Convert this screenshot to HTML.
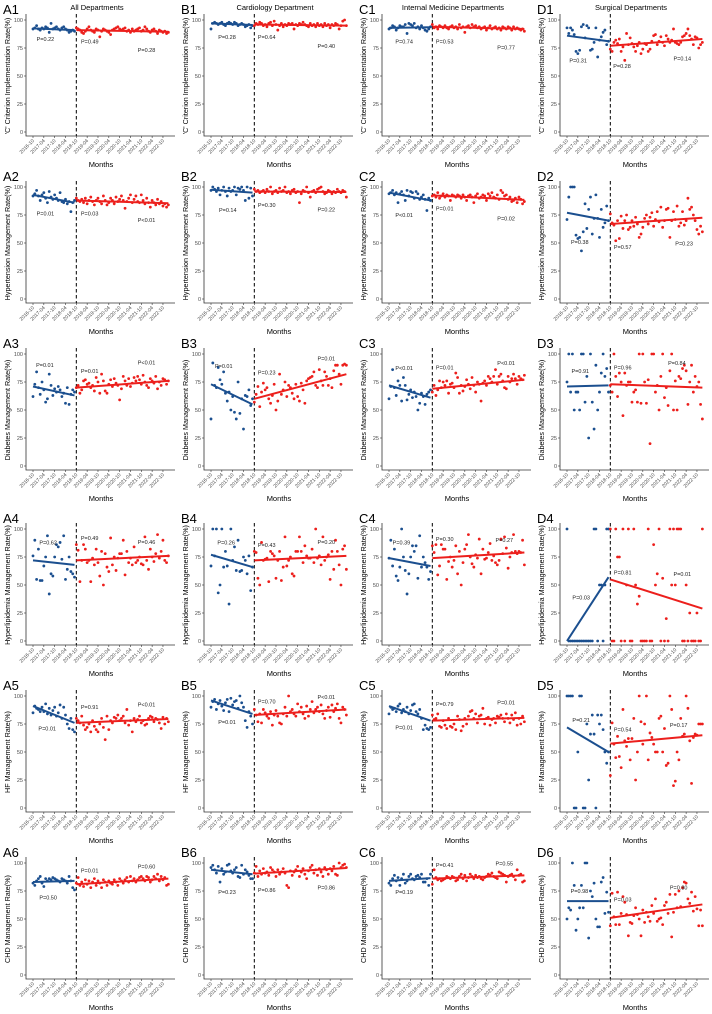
<!DOCTYPE html>
<html><head><meta charset="utf-8">
<style>
html,body{margin:0;padding:0;background:#fff;}
svg{display:block;font-family:"Liberation Sans",sans-serif;}
</style></head>
<body>
<svg id="chart" width="712" height="1014" viewBox="0 0 712 1014" xmlns="http://www.w3.org/2000/svg"></svg>
<script>
const colTitles=["All Departments","Cardiology Department","Internal Medicine Departments","Surgical Departments"];
const rowTitles=["'C' Criterion Implementation Rate(%)","Hypertension Management Rate(%)","Diabetes Management Rate(%)","Hyperlipidemia Management Rate(%)","HF Management Rate(%)","CHD Management Rate(%)"];
const xTicks=["2016-10","2017-04","2017-10","2018-04","2018-10","2019-04","2019-10","2020-04","2020-10","2021-04","2021-10","2022-04","2022-10"];
const yTicks=[0,25,50,75,100];

const A1pre=[92,93,95,92,91,93,92,94,93,89,97,92,93,94,92,91,93,94,92,91,89,90,91,90];
const A1post=[93,92,91,89,88,90,92,94,91,90,89,92,91,85,90,92,91,90,89,87,91,92,93,94,92,91,92,93,90,91,89,92,90,91,92,93,90,91,94,92,90,89,91,92,90,88,91,90,89,90,88,89];
const A1fit=[92.5,91,91,89.5];const A1pt=["P=0.22","P=0.49","P=0.28"];const A1pm=[2,26.6,58];const A1pv=[83,80.6,73];

const B1pre=[92,97,98,97,96,97,98,96,95,97,98,97,96,98,97,95,96,97,96,94,95,96,93,95];
const B1post=[95,97,96,98,97,95,96,94,97,98,95,99,96,91,95,97,94,96,95,97,96,97,92,96,95,97,96,98,96,95,94,97,95,96,94,97,95,96,94,97,95,96,93,96,95,97,96,92,95,99,100,95];
const B1fit=[97,95.5,96,95];const B1pt=["P=0.28","P=0.64","P=0.40"];const B1pm=[4,26,59];const B1pv=[85,85,77];

const C1pre=[92,93,95,94,91,93,95,94,94,96,88,97,96,95,97,93,94,92,95,93,91,90,92,94];
const C1post=[96,93,94,92,95,94,93,95,93,92,94,95,93,94,92,96,93,94,89,94,95,93,96,94,95,93,94,92,93,94,91,93,95,92,93,94,92,93,91,94,93,92,94,93,91,94,92,93,92,91,92,90];
const C1fit=[93,93.5,94,92];const C1pt=["P=0.74","P=0.53","P=0.77"];const C1pm=[3.5,26,60];const C1pv=[81,81,75.6];

const D1pre=[93,88,93,91,87,72,70,73,94,96,84,95,93,73,74,80,93,67,82,85,89,91,78,81];
const D1post=[74,72,80,82,79,83,72,76,64,88,78,84,79,76,72,77,80,70,74,79,78,72,74,81,86,87,78,81,85,80,77,86,83,80,82,92,80,79,78,80,85,86,88,92,86,83,78,85,84,75,78,80];
const D1fit=[86,81,77,83];const D1pt=["P=0.31","P=0.28","P=0.14"];const D1pm=[1.3,25.6,59];const D1pv=[64,59,65.5];

const A2pre=[92,94,97,92,88,93,95,90,86,96,91,89,93,90,88,95,87,86,89,85,87,78,86,88];
const A2post=[90,88,87,89,86,90,85,88,91,87,84,88,90,87,85,92,88,84,86,90,88,85,91,87,89,92,88,81,87,90,93,86,89,92,87,86,93,88,85,90,86,82,88,86,84,89,85,87,83,85,82,84];
const A2fit=[93,86,88,85.5];const A2pt=["P=0.01","P=0.03","P<0.01"];const A2pm=[2,26.5,58];const A2pv=[76.5,76.5,70.5];

const B2pre=[97,100,98,96,99,93,97,100,96,92,99,96,97,100,93,99,98,100,97,88,100,90,99,92];
const B2post=[98,96,97,95,96,97,95,98,96,100,94,96,97,95,99,96,97,100,95,96,94,97,98,95,96,86,94,97,96,100,95,91,96,97,95,98,99,100,96,94,95,97,96,94,96,95,98,96,95,97,96,91];
const B2fit=[97.5,95,96,95.5];const B2pt=["P=0.14","P=0.30","P=0.22"];const B2pm=[4.4,26,59];const B2pv=[79.5,84,80];

const C2pre=[94,95,97,93,95,86,94,96,93,88,97,92,96,95,90,96,94,89,91,93,89,79,90,88];
const C2post=[92,93,91,95,90,92,94,91,93,92,88,93,92,91,93,92,90,93,91,88,92,93,91,86,92,94,90,91,93,92,88,94,92,95,91,90,93,89,97,95,92,93,89,91,87,88,90,86,91,89,85,87];
const C2fit=[95,88,92.5,88.5];const C2pt=["P<0.01","P=0.01","P=0.02"];const C2pm=[3.5,26,60];const C2pv=[75,81,71.7];

const D2pre=[71,91,100,100,100,57,54,55,43,60,85,63,80,91,58,72,93,72,55,80,64,68,83,70];
const D2post=[76,68,66,52,70,54,74,63,70,75,62,64,70,65,73,67,55,58,64,72,75,67,73,77,65,71,78,69,82,64,70,80,81,55,70,78,71,83,65,68,78,66,70,90,80,82,75,70,62,58,65,60];
const D2fit=[77,70,67,72.5];const D2pt=["P=0.38","P=0.57","P=0.23"];const D2pm=[2.2,26,60];const D2pv=[51,46.4,49.4];

const A3pre=[62,73,84,70,64,75,68,57,60,82,72,63,69,66,71,68,62,65,56,70,55,64,68,66];
const A3post=[70,72,65,68,76,77,73,74,70,72,67,79,75,65,82,76,67,65,73,77,71,78,74,72,59,69,80,76,72,78,71,74,79,76,80,77,73,81,75,72,70,78,76,74,80,69,75,72,78,77,73,76];
const A3fit=[71,63,70,76];const A3pt=["P=0.01","P=0.01","P<0.01"];const A3pm=[1.7,26.5,58];const A3pv=[90,85,92.6];

const B3pre=[42,92,72,70,88,77,73,84,65,58,66,50,62,48,42,75,47,60,33,63,62,68,54,60];
const B3post=[57,64,71,53,66,74,68,70,60,56,63,73,50,58,82,64,68,75,62,72,70,65,60,73,62,58,74,68,56,76,78,79,80,84,72,70,86,76,72,84,80,72,78,70,85,90,90,82,73,90,91,90];
const B3fit=[73,55,60,82];const B3pt=["P=0.01","P=0.23","P=0.01"];const B3pm=[2.2,26,59];const B3pv=[89.5,83.6,96];

const C3pre=[60,71,86,70,63,76,72,58,79,72,59,64,68,61,66,62,50,56,65,62,55,64,66,68];
const C3post=[66,72,63,68,76,70,75,72,76,65,73,74,70,83,79,65,72,67,71,77,73,69,79,72,66,75,73,58,74,76,72,80,78,75,80,86,73,80,82,76,70,69,80,75,78,82,78,73,80,78,77,81];
const C3fit=[72,61,69,77];const C3pt=["P<0.01","P=0.01","P<0.01"];const C3pm=[3.5,26,60];const C3pv=[87.5,88,92];

const D3pre=[75,100,66,100,50,66,66,50,100,100,57,80,25,100,57,33,90,50,66,83,100,80,87,66];
const D3post=[72,66,100,80,62,83,75,45,83,72,75,75,57,66,68,57,100,56,100,75,56,77,20,100,100,66,72,50,80,100,61,70,54,85,100,50,76,50,80,78,87,90,85,55,75,90,66,80,71,75,55,42];
const D3fit=[71,72,73,70];const D3pt=["P=0.91","P=0.96","P=0.84"];const D3pm=[2.5,26,56];const D3pv=[85,88,92];

const A4pre=[76,90,55,82,54,54,67,75,94,42,60,58,75,86,84,88,73,94,55,64,75,62,60,57];
const A4post=[86,81,53,72,86,82,70,72,53,74,68,82,70,58,80,50,78,66,62,92,68,75,63,74,78,78,90,59,80,70,74,68,84,70,72,75,69,68,93,72,64,82,75,71,78,95,74,80,90,72,70,76];
const A4fit=[72,68,72,76];const A4pt=["P=0.62","P=0.49","P=0.46"];const A4pm=[3.5,26.5,58];const A4pv=[88,92,88.5];

const B4pre=[67,100,76,100,43,50,100,66,80,67,33,100,72,84,63,90,62,63,75,72,60,76,45,66];
const B4post=[80,79,56,50,88,72,73,74,53,80,78,76,56,72,80,54,66,93,67,72,75,60,58,80,80,93,80,70,85,76,74,74,82,70,100,74,76,68,93,72,75,77,55,80,64,90,80,68,50,82,85,64];
const B4fit=[77,66,72,76];const B4pt=["P=0.26","P=0.43","P=0.20"];const B4pm=[3.5,26,59];const B4pv=[88,85.5,88.5];

const C4pre=[74,90,67,82,58,54,66,100,75,63,42,60,75,85,80,85,56,94,66,75,70,66,55,62];
const C4post=[85,79,86,59,67,86,82,82,55,71,75,66,72,85,60,80,50,70,82,86,95,75,69,66,77,74,91,60,82,73,74,79,87,72,76,70,68,72,91,78,93,83,65,75,79,95,80,78,80,79,90,68];
const C4fit=[74,67,74,79];const C4pt=["P=0.39","P=0.30","P=0.27"];const C4pm=[2,26,59];const C4pv=[88,91,90];

const D4pre=[100,0,0,0,0,0,0,0,0,0,0,0,0,0,0,100,100,0,50,50,0,50,100,100];
const D4post=[100,0,0,100,75,75,0,100,0,50,100,0,0,100,50,33,40,0,0,0,0,100,0,0,86,50,60,100,0,56,0,20,0,100,50,100,50,100,100,100,0,0,50,0,25,0,0,0,25,0,0,100];
const D4fit=[0,57,55,29];const D4pt=["P=0.03","P=0.81","P=0.01"];const D4pm=[3,26,59];const D4pv=[39,61,60];

const A5pre=[85,91,89,88,86,90,86,93,84,89,83,87,90,82,85,92,80,90,83,75,71,80,70,68];
const A5post=[80,78,76,82,74,70,72,75,68,78,73,70,68,75,80,72,61,82,70,78,76,81,80,83,78,80,82,76,88,74,78,68,80,77,79,82,76,78,74,75,80,82,81,77,80,79,76,71,81,75,80,77];
const A5fit=[91,76,76,79.5];const A5pt=["P=0.01","P=0.91","P<0.01"];const A5pm=[3,26.5,58];const A5pv=[71,90,92.6];

const B5pre=[90,95,97,88,93,96,91,87,94,97,86,98,92,95,96,89,100,94,90,78,72,86,82,75];
const B5post=[88,83,77,84,76,88,85,82,80,86,74,83,87,82,76,75,84,90,82,100,86,88,84,82,93,86,90,84,80,91,82,88,95,85,88,90,86,92,84,80,87,90,81,92,86,89,93,80,76,90,88,83];
const B5fit=[96,84,83,88];const B5pt=["P=0.01","P=0.70","P<0.01"];const B5pm=[4,26,59];const B5pv=[77,95.3,99];

const C5pre=[84,90,88,89,86,91,93,85,88,86,90,84,87,92,93,86,84,88,80,70,74,71,70,72];
const C5post=[83,79,80,84,73,72,78,74,71,80,73,72,75,70,82,79,69,73,80,75,82,86,87,80,84,76,82,83,89,75,80,81,74,79,80,76,82,81,83,80,77,84,80,76,83,79,85,74,80,75,82,77];
const C5fit=[91,78,78,80.5];const C5pt=["P=0.01","P=0.79","P=0.01"];const C5pm=[3.5,26,60];const C5pv=[72,93,94];

const D5pre=[100,100,100,100,0,0,50,100,100,0,0,75,25,66,83,66,0,83,75,83,70,50,40,50];
const D5post=[29,76,57,45,64,46,36,88,60,55,62,43,62,80,25,50,100,77,57,75,100,43,67,63,57,50,50,80,82,50,71,38,40,100,88,20,24,50,43,80,64,66,100,89,60,22,63,66,65,75,75,75];
const D5fit=[72,50,57.5,65];const D5pt=["P=0.21","P=0.54","P=0.17"];const D5pm=[3,26,57];const D5pv=[78.6,70,74];

const A6pre=[82,80,84,86,88,82,79,86,84,86,85,87,86,85,84,83,86,85,84,82,88,84,78,76];
const A6post=[82,87,80,83,79,85,81,84,78,83,86,80,84,82,78,85,83,80,84,82,81,85,83,80,86,84,82,85,87,83,88,84,86,83,85,87,88,86,84,88,87,83,85,88,86,90,84,88,85,87,80,81];
const A6fit=[83,84,81,86];const A6pt=["P=0.50","P=0.01","P=0.60"];const A6pm=[3.5,26.5,58];const A6pv=[69,93.5,97];

const B6pre=[96,98,94,91,97,83,95,90,92,98,99,93,91,94,96,88,87,98,90,94,92,89,86,86];
const B6post=[91,97,88,93,90,95,91,92,89,96,94,92,88,94,90,92,95,91,80,78,93,89,92,94,97,88,92,95,90,86,93,96,98,91,94,89,95,92,88,96,94,90,95,93,97,90,89,100,96,98,99,96];
const B6fit=[94,90,90.5,95.5];const B6pt=["P=0.23","P=0.86","P=0.86"];const B6pm=[4,26,59];const B6pv=[74,76,78];

const C6pre=[82,80,86,89,84,87,80,86,90,82,84,88,90,86,85,88,89,87,90,83,83,86,80,90];
const C6post=[81,94,87,85,86,84,85,86,88,87,86,88,87,84,85,88,90,86,89,84,87,90,88,86,89,87,88,86,85,87,88,90,89,91,88,87,86,92,91,90,89,83,88,89,90,88,85,94,89,90,83,84];
const C6fit=[84,86.5,86,89];const C6pt=["P=0.19","P=0.41","P=0.55"];const C6pm=[3.5,26,59];const C6pv=[74,98,99.5];

const D6pre=[50,60,58,100,80,40,50,60,80,60,100,100,33,75,70,82,50,43,43,83,87,55,74,56];
const D6post=[44,73,52,45,74,45,55,70,65,54,35,47,46,53,60,54,50,35,58,47,56,52,48,62,55,68,48,50,51,45,62,65,55,72,34,56,72,60,75,61,78,83,82,68,64,74,57,70,59,44,58,44];
const D6fit=[66,66,51,63];const D6pt=["P=0.98","P=0.03","P=0.80"];const D6pm=[2,26,57];const D6pv=[75,67.6,78];

const panels=[
 [A1pre,A1post,A1fit,A1pt,A1pm,A1pv],[B1pre,B1post,B1fit,B1pt,B1pm,B1pv],[C1pre,C1post,C1fit,C1pt,C1pm,C1pv],[D1pre,D1post,D1fit,D1pt,D1pm,D1pv],
 [A2pre,A2post,A2fit,A2pt,A2pm,A2pv],[B2pre,B2post,B2fit,B2pt,B2pm,B2pv],[C2pre,C2post,C2fit,C2pt,C2pm,C2pv],[D2pre,D2post,D2fit,D2pt,D2pm,D2pv],
 [A3pre,A3post,A3fit,A3pt,A3pm,A3pv],[B3pre,B3post,B3fit,B3pt,B3pm,B3pv],[C3pre,C3post,C3fit,C3pt,C3pm,C3pv],[D3pre,D3post,D3fit,D3pt,D3pm,D3pv],
 [A4pre,A4post,A4fit,A4pt,A4pm,A4pv],[B4pre,B4post,B4fit,B4pt,B4pm,B4pv],[C4pre,C4post,C4fit,C4pt,C4pm,C4pv],[D4pre,D4post,D4fit,D4pt,D4pm,D4pv],
 [A5pre,A5post,A5fit,A5pt,A5pm,A5pv],[B5pre,B5post,B5fit,B5pt,B5pm,B5pv],[C5pre,C5post,C5fit,C5pt,C5pm,C5pv],[D5pre,D5post,D5fit,D5pt,D5pm,D5pv],
 [A6pre,A6post,A6fit,A6pt,A6pm,A6pv],[B6pre,B6post,B6fit,B6pt,B6pm,B6pv],[C6pre,C6post,C6fit,C6pt,C6pm,C6pv],[D6pre,D6post,D6fit,D6pt,D6pm,D6pv]
];
const rowTops=[0,167,334,509,676,843];
const colW=178;
const NS="http://www.w3.org/2000/svg";
const svg=document.getElementById('chart');
function mk(tag,attrs,parent,txt){const e=document.createElementNS(NS,tag);for(const k in attrs)e.setAttribute(k,attrs[k]);if(txt!==undefined)e.textContent=txt;parent.appendChild(e);return e;}
const BLUE="#1b4f8f",RED="#ec1f1c",GRAY="#4d4d4d";
panels.forEach((p,i)=>{
  const r=Math.floor(i/4),c=i%4;
  const x0=c*colW,ty=rowTops[r];
  const id="ABCD"[c]+(r+1);
  const xs=m=>x0+33+m*1.805;
  const ys=v=>ty+20+(100-v)*1.12;
  const g=mk('g',{},svg);
  
  
  const lab=mk('text',{x:x0+3,y:ty+14,'font-size':13,fill:'#000'},g,id);
  
  
  if(r===0){const t=mk('text',{x:x0+97,y:ty+10,'font-size':7.5,'text-anchor':'middle',fill:'#000'},g,colTitles[c]);
    
    }
  const yt=mk('text',{x:0,y:0,'font-size':7.2,'text-anchor':'middle',fill:'#000',transform:`translate(${x0+10},${ty+76}) rotate(-90)`},g,rowTitles[r]);
  
  
  const ax=mk('path',{d:`M${x0+26},${ty+14}V${ty+136}H${x0+175}`,stroke:'#333',fill:'none','stroke-width':0.8},g);
  
  
  yTicks.forEach(v=>{
    mk('line',{x1:x0+24,x2:x0+26,y1:ys(v),y2:ys(v),stroke:'#333','stroke-width':0.6},g);
    const t=mk('text',{x:x0+23,y:ys(v)+2,'font-size':5.5,'text-anchor':'end',fill:GRAY},g,v);
    
    
  });
  xTicks.forEach((s,k)=>{
    const xx=xs(k*6);
    mk('line',{x1:xx,x2:xx,y1:ty+136,y2:ty+138,stroke:'#333','stroke-width':0.6},g);
    const t=mk('text',{x:0,y:0,'font-size':5,'text-anchor':'end',fill:GRAY,transform:`translate(${xx+1.5},${ty+141}) rotate(-45)`},g,s);
    
    
  });
  const xt=mk('text',{x:x0+101,y:ty+167,'font-size':7.5,'text-anchor':'middle',fill:'#000'},g,'Months');
  
  
  const dl=mk('line',{x1:xs(24),x2:xs(24),y1:ty+14,y2:ty+136,stroke:'#000','stroke-width':1,'stroke-dasharray':'3.5,2.5'},g);
  
  
  const [pre,post,fit,pt,pm,pv]=p;
  pre.forEach((v,k)=>{const d=mk('circle',{cx:xs(k),cy:ys(v),r:1.4,fill:BLUE},g);
    
    });
  post.forEach((v,k)=>{const d=mk('circle',{cx:xs(24+k),cy:ys(v),r:1.4,fill:RED},g);
    
    });
  const l1=mk('line',{x1:xs(0),y1:ys(fit[0]),x2:xs(pre.length-1),y2:ys(fit[1]),stroke:BLUE,'stroke-width':2},g);
  
  
  const l2=mk('line',{x1:xs(24),y1:ys(fit[2]),x2:xs(24+post.length-1),y2:ys(fit[3]),stroke:RED,'stroke-width':2},g);
  
  
  pt.forEach((s,k)=>{const t=mk('text',{x:xs(pm[k]),y:ys(pv[k])+2,'font-size':5.5,fill:'#222'},g,s);
    
    });
});
</script>
</body></html>
